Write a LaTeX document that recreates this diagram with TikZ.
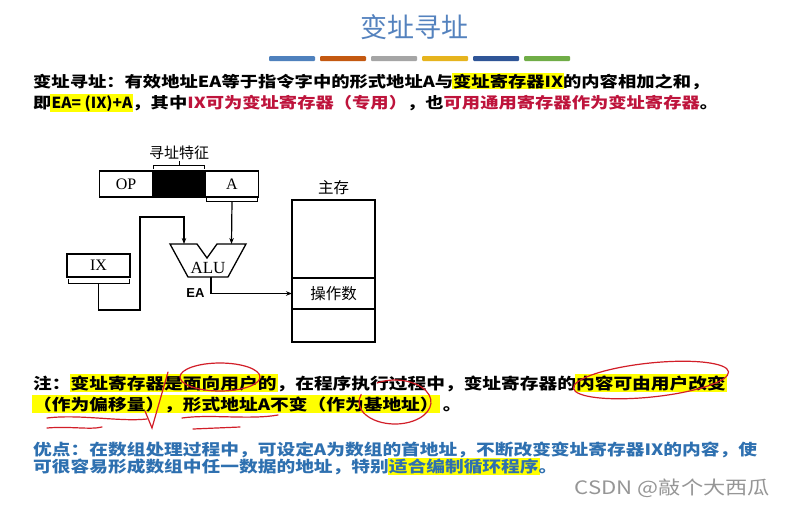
\documentclass[tikz,border=0pt]{standalone}
\usepackage{fontspec}
\usetikzlibrary{arrows.meta,positioning}
\newfontfamily\cjk[FakeStretch=1.2]{Noto Sans CJK SC}
\newfontfamily\cjkd{Noto Sans CJK SC}
\newfontfamily\lserif{Liberation Serif}
\newfontfamily\lsans{Liberation Sans}
\definecolor{titleblue}{RGB}{84,130,190}
\definecolor{hlyellow}{RGB}{255,255,0}
\definecolor{txtred}{RGB}{190,20,60}
\definecolor{advblue}{RGB}{46,112,176}
\definecolor{inkred}{RGB}{210,30,40}
\definecolor{wmgray}{RGB}{150,150,150}
\definecolor{barA}{RGB}{79,129,189}
\definecolor{barB}{RGB}{196,89,17}
\definecolor{barC}{RGB}{165,165,165}
\definecolor{barD}{RGB}{230,180,30}
\definecolor{barE}{RGB}{47,85,151}
\definecolor{barF}{RGB}{112,173,71}
\newcommand{\hl}[1]{{\setlength{\fboxsep}{1pt}\hspace{-1pt}\colorbox{hlyellow}{#1}\hspace{-1pt}}}
\tikzset{
  body/.style={anchor=base west, inner sep=0pt, font=\cjk\bfseries\fontsize{15.6}{18}\selectfont},
  intro/.style={body, font=\cjk\bfseries\fontsize{15.25}{18}\selectfont},
  fld/.style={draw, line width=1.3pt, minimum width=53pt, minimum height=26pt,
    inner sep=0pt, outer sep=0pt, font=\lserif\fontsize{16}{16}\selectfont},
  lbl/.style={inner sep=0pt, font=\cjkd\fontsize{15.5}{16}\selectfont},
  brk/.style={line width=1pt},
  wire/.style={line width=1.2pt, -{Stealth[length=6pt,width=4.5pt]}},
  ink/.style={inkred, line width=1.2pt, line cap=round}
}
\begin{document}
\begin{tikzpicture}[x=1pt,y=-1pt]
  \fill[white] (0,0) rectangle (787,507);
  \useasboundingbox (0,0) rectangle (787,507);

  % title and colour bars
  \node[text=titleblue, font=\cjkd\fontsize{27}{27}\selectfont] (title) at (414,27) {变址寻址};
  \foreach \c [count=\i from 0] in {barA,barB,barC,barD,barE,barF}
    \fill[\c, rounded corners=1pt] (269+51*\i,56) rectangle ++(46,5);

  % definition
  \node[intro] (intro1) at (33,87) {变址寻址：有效地址EA等于指令字中的形式地址A与\hl{变址寄存器IX}的内容相加之和，};
  \node[intro] (intro2) at (33,108) {即\hl{\scalebox{0.85}[1]{EA= (IX)+A}}，其中{\color{txtred}IX可为变址寄存器（专用）}，也{\color{txtred}可用通用寄存器作为变址寄存器}。};

  % instruction word
  \node[fld] (op) at (126,184) {OP};
  \node[fld, fill=black, right=0pt of op] (mode) {};
  \node[fld, right=0pt of mode] (addr) {A};
  \draw[brk] ([xshift=1pt,yshift=2pt]mode.north west) -- ++(0,-4) -| ([xshift=-1pt,yshift=2pt]mode.north east);
  \draw[brk] ([yshift=6pt]mode.north) -- ++(0,-4) coordinate (modetip);
  \node[lbl, above=1pt of modetip, font=\cjkd\fontsize{15}{15}\selectfont] (modelbl) {寻址特征};
  \draw[brk] ([xshift=1pt,yshift=-1pt]addr.south west) -- ++(0,3) -| ([xshift=-1pt,yshift=-1pt]addr.south east);

  % index register
  \node[fld, minimum width=63pt, minimum height=23pt] (ix) at (98.5,265.5) {IX};
  \draw[brk] ([xshift=1pt,yshift=-2pt]ix.south west) -- ++(0,4) -| ([xshift=-1pt,yshift=-2pt]ix.south east);

  % adder
  \draw[line width=1.3pt] (170,244) -- (197,244) -- (207,258) -- (217,244) -- (246,244)
    -- (228,277) -- (188,277) -- cycle;
  \node[inner sep=0pt, font=\lserif\fontsize{17}{17}\selectfont] (alu) at (208,268) {ALU};
  \coordinate (aluL) at (184,244);
  \coordinate (aluR) at (231.5,244);
  \coordinate (aluO) at (211,277);
  \coordinate (bend) at (140,217);
  \node[inner sep=0pt, font=\lsans\bfseries\fontsize{13}{13}\selectfont] (ea) at (195.5,293) {EA};

  % main memory
  \node[draw, line width=1.3pt, minimum width=83pt, minimum height=142pt] (mem) at (333.5,271) {};
  \node[fld, minimum width=83pt, minimum height=31pt, font=\cjkd\fontsize{15.5}{16}\selectfont] (opnd) at (333.5,293.5) {操作数};
  \node[lbl, above=4pt of mem] (memlbl) {主存};

  % connectors
  \draw[wire] ([yshift=-4pt]addr.south) -- (aluR);
  \draw[wire] ([yshift=-6pt]ix.south) |- (bend |- 0,310) -- (bend) -| (aluL);
  \draw[wire] (aluO) |- (opnd.west);

  % note
  \node[body] (note1) at (33,389) {注：\hl{变址寄存器是面向用户的}，在程序执行过程中，变址寄存器的\hl{内容可由用户改变}};
  \node[body] (note2) at (33,410) {\hl{（作为偏移量），形式地址A不变（作为基地址）}\ 。};

  % pen marks
  \draw[ink] (220,377) ellipse [x radius=40, y radius=14];
  \draw[ink, rotate around={6:(651,380)}] (651,380) ellipse [x radius=78, y radius=17];
  \draw[ink] (395,402) ++(240:36 and 22) arc[start angle=240, end angle=560, x radius=36, y radius=22];
  \draw[ink] (47,418) .. controls (80,414) and (120,422) .. (147,419);
  \draw[ink] (47,428) .. controls (70,426) and (90,430) .. (102,427);
  \draw[ink] (145,411) -- (152,428) -- (168,372);
  \draw[ink] (182,418) .. controls (210,414) and (250,420) .. (278,415);
  \draw[ink] (193,429) -- (240,427);

  % advantages
  \node[body, text=advblue] (adv1) at (33,455.5) {优点：在数组处理过程中，可设定A为数组的首地址，不断改变变址寄存器IX的内容，使};
  \node[body, text=advblue] (adv2) at (33,472.5) {可很容易形成数组中任一数据的地址，特别\hl{适合编制循环程序}。};

  \node[anchor=base east, inner sep=0pt, text=wmgray, font=\cjk\fontsize{18.5}{19}\selectfont] (wm) at (770,494) {CSDN @敲个大西瓜};
\end{tikzpicture}
\end{document}
